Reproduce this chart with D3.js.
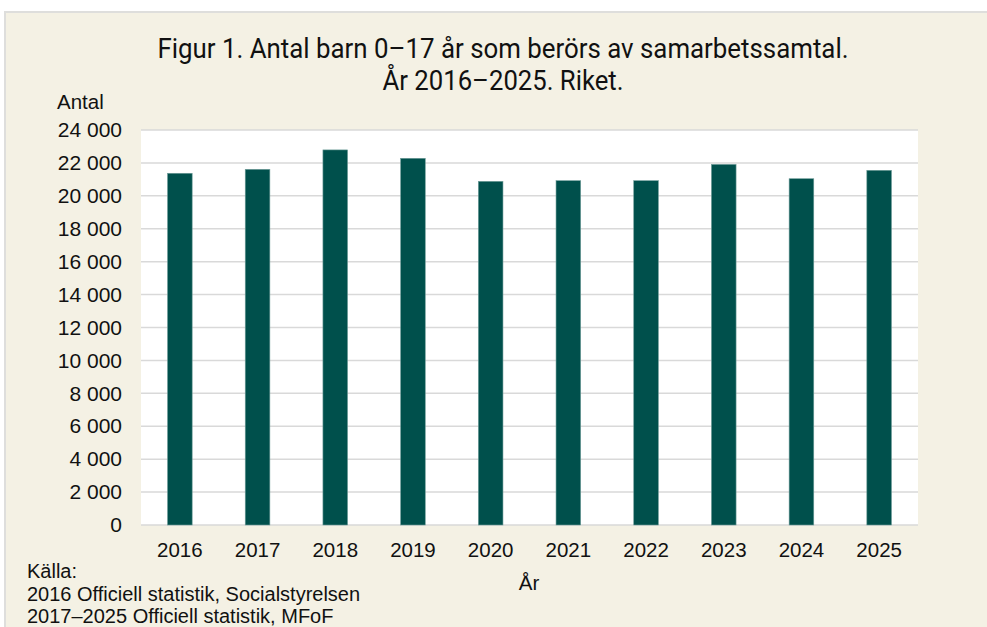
<!DOCTYPE html>
<html>
<head>
<meta charset="utf-8">
<script src="https://cdn.jsdelivr.net/npm/d3@7"></script>
<style>
  html, body { margin: 0; padding: 0; background: #ffffff; }
  svg { display: block; }
</style>
</head>
<body>
<svg id="chart" width="987" height="627"></svg>
<script>
const years = ["2016","2017","2018","2019","2020","2021","2022","2023","2024","2025"];
const values = [21370, 21610, 22790, 22280, 20880, 20920, 20920, 21910, 21040, 21550];
const yTicks = [0, 2000, 4000, 6000, 8000, 10000, 12000, 14000, 16000, 18000, 20000, 22000, 24000];
const titleLines = ["Figur 1. Antal barn 0\u201317 år som berörs av samarbetssamtal.", "År 2016\u20132025. Riket."];
const titleWidths = [691, 241];
const sourceLines = ["Källa:", "2016 Officiell statistik, Socialstyrelsen", "2017\u20132025 Officiell statistik, MFoF"];

const svg = d3.select("#chart");
const W = 987, H = 627;

// panel
svg.append("rect").attr("x", 5).attr("y", 12).attr("width", W).attr("height", H)
  .attr("fill", "#F4F1E4").attr("stroke", "#DEDEDC").attr("stroke-width", 2);

const plot = {left: 141, right: 918, top: 130, bottom: 525};

svg.append("rect").attr("x", plot.left).attr("y", plot.top)
  .attr("width", plot.right - plot.left).attr("height", plot.bottom - plot.top)
  .attr("fill", "#ffffff");

const x = d3.scaleBand().domain(years).range([plot.left, plot.right]).paddingInner(0.683).paddingOuter(0.3415);
const y = d3.scaleLinear().domain([0, 24000]).range([plot.bottom, plot.top]);

const fmt = v => d3.format(",")(v).replace(/,/g, " ");

// gridlines
svg.append("g").selectAll("line").data(yTicks).join("line")
  .attr("x1", plot.left).attr("x2", plot.right)
  .attr("y1", d => y(d)).attr("y2", d => y(d))
  .attr("stroke", "#D9D9D9").attr("stroke-width", 1.5);

// y axis labels
const yAxis = d3.axisLeft(y).tickValues(yTicks).tickFormat(fmt).tickSize(0).tickPadding(19);
const gy = svg.append("g").attr("transform", `translate(${plot.left},0)`).call(yAxis);
gy.select(".domain").remove();
gy.selectAll("text").attr("font-family", "Liberation Sans, Arial, sans-serif")
  .attr("font-size", 21).attr("fill", "#111");

// bars
svg.append("g").selectAll("rect").data(values).join("rect")
  .attr("x", (d, i) => x(years[i]))
  .attr("y", d => y(d))
  .attr("width", x.bandwidth())
  .attr("height", d => y(0) - y(d))
  .attr("fill", "#00504C")
  .attr("stroke", "#6E9C98").attr("stroke-width", 0.6);

// x axis
const xAxis = d3.axisBottom(x).tickSize(0).tickPadding(17);
const gx = svg.append("g").attr("transform", `translate(0,${plot.bottom})`).call(xAxis);
gx.select(".domain").remove();
gx.selectAll("text").attr("font-family", "Liberation Sans, Arial, sans-serif")
  .attr("font-size", 20.5).attr("fill", "#111");

// title
svg.append("g").selectAll("text").data(titleLines).join("text")
  .attr("x", 503).attr("y", (d, i) => 58 + i * 32)
  .attr("text-anchor", "middle")
  .attr("font-family", "Roboto, sans-serif")
  .attr("font-size", 27)
  .attr("textLength", (d, i) => titleWidths[i])
  .attr("lengthAdjust", "spacingAndGlyphs")
  .attr("fill", "#111")
  .text(d => d);

// axis titles
svg.append("text").attr("x", 57).attr("y", 109)
  .attr("font-family", "Liberation Sans, Arial, sans-serif").attr("font-size", 20.5)
  .attr("fill", "#111").text("Antal");
svg.append("text").attr("x", 529).attr("y", 590).attr("text-anchor", "middle")
  .attr("font-family", "Liberation Sans, Arial, sans-serif").attr("font-size", 20.5)
  .attr("fill", "#111").text("År");

// source
svg.append("g").selectAll("text").data(sourceLines).join("text")
  .attr("x", 27).attr("y", (d, i) => 578 + i * 22.5)
  .attr("font-family", "Liberation Sans, Arial, sans-serif").attr("font-size", 20)
  .attr("fill", "#111").text(d => d);
</script>
</body>
</html>
